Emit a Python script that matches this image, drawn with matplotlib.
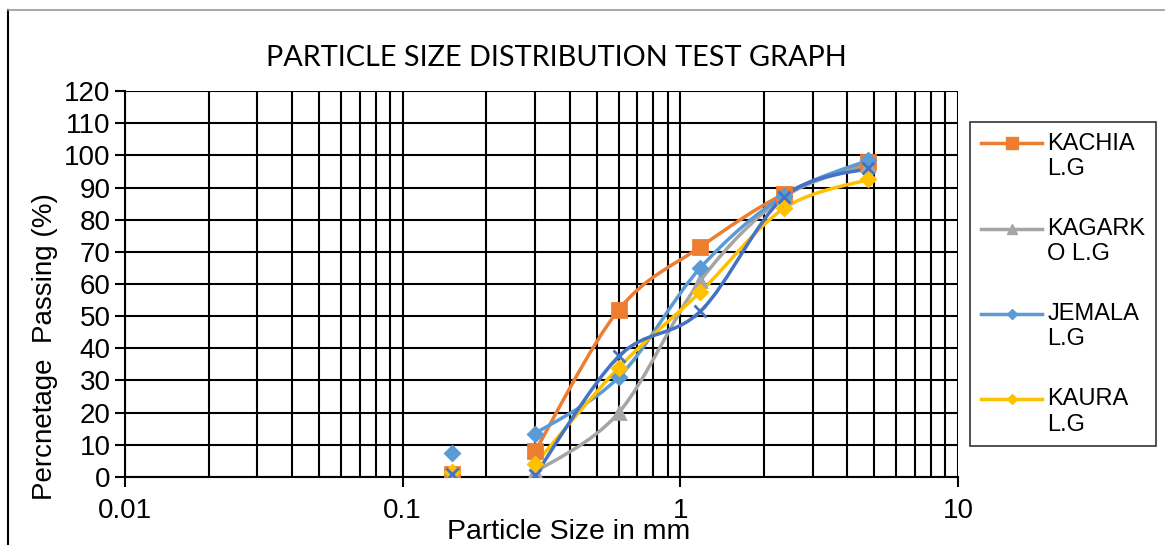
import numpy as np
import matplotlib.pyplot as plt
from matplotlib.path import Path
from matplotlib.patches import PathPatch
from matplotlib.lines import Line2D
from matplotlib.legend_handler import HandlerLine2D

plt.rcParams['font.family'] = ['Liberation Sans', 'DejaVu Sans']

# sieve sizes (mm) and percentage passing per sample
sizes = [0.15, 0.3, 0.6, 1.18, 2.36, 4.75]
kachia = [1, 8, 52, 71.5, 88, 98]
kagarko = [1, 1.5, 20, 61, 87, 97]
jemala = [7.5, 13.5, 31, 65, 87.5, 98.5]
kaura = [1.5, 4, 34, 57.5, 83.5, 92.5]
extra = [1, 0.5, 37.5, 51.5, 87, 96]

labels = ['KACHIA\nL.G', 'KAGARK\nO L.G', 'JEMALA\nL.G', 'KAURA\nL.G', None]
colors = ['#ED7D31', '#A5A5A5', '#5B9BD5', '#FFC000', '#4472C4']
markers = ['s', '^', 'D', 'D', 'x']
msizes = [10, 9, 7, 7, 8]
series = [kachia, kagarko, jemala, kaura, extra]


def smooth(x, y):
    # excel style smoothed line, bezier in log-x space
    pts = np.column_stack([np.log10(x), y])
    n = len(pts)
    verts = [pts[0]]
    codes = [Path.MOVETO]
    for i in range(n - 1):
        p0 = pts[max(i - 1, 0)]
        p1 = pts[i]
        p2 = pts[i + 1]
        p3 = pts[min(i + 2, n - 1)]
        verts += [p1 + (p2 - p0) / 6, p2 - (p3 - p1) / 6, p2]
        codes += [Path.CURVE4] * 3
    verts = np.array(verts)
    verts[:, 0] = 10 ** verts[:, 0]
    return Path(verts, codes)


class HandlerUp(HandlerLine2D):
    # put the legend line next to the first text line
    def create_artists(self, legend, orig_handle, xdescent, ydescent,
                       width, height, fontsize, trans):
        return super().create_artists(legend, orig_handle, xdescent, ydescent - 19,
                                      width, height, fontsize, trans)


fig = plt.figure(figsize=(11.65, 5.45), dpi=100)
ax = fig.add_axes([0.1073, 0.1248, 0.715, 0.7082])

handles = []
for vals, lab, c, m, ms in zip(series, labels, colors, markers, msizes):
    p = PathPatch(smooth(sizes[1:], vals[1:]), transform=ax.transData,
                  fill=False, edgecolor=c, lw=2.5, zorder=3)
    ax.add_patch(p)
    ax.plot(sizes, vals, ls='none', marker=m, color=c, ms=ms, mew=2, zorder=4)
    if lab:
        handles.append((Line2D([], [], color=c, lw=2.5, marker=m, ms=ms * 0.8), lab))

ax.set_xscale('log')
ax.set_xlim(0.01, 10)
ax.set_ylim(0, 120)
ax.set_yticks(range(0, 121, 10))
ax.set_xticks([0.01, 0.1, 1, 10])
ax.set_xticklabels(['0.01', '0.1', '1', '10'])
ax.grid(True, which='both', axis='x', color='black', lw=1.5)
ax.grid(True, which='major', axis='y', color='black', lw=1.5)
ax.set_axisbelow(True)
ax.tick_params(axis='both', which='major', labelsize=20, length=7, width=1.5, color='black')
ax.tick_params(axis='x', which='minor', length=0)
ax.tick_params(axis='x', pad=8)
for s in ['top', 'right']:
    ax.spines[s].set_visible(False)
for s in ['left', 'bottom']:
    ax.spines[s].set_linewidth(1.5)

ax.set_xlabel('Particle Size in mm', fontsize=20.5)
ax.xaxis.set_label_coords(0.533, -0.11)
ax.set_ylabel('Percnetage  Passing (%)', fontsize=20)
ax.yaxis.set_label_coords(-0.08, 0.337)
fig.text(0.478, 0.893, 'PARTICLE SIZE DISTRIBUTION TEST GRAPH', ha='center', va='center',
         fontsize=20.8, family=['Lato', 'DejaVu Sans'])

leg = fig.legend([h for h, _ in handles], [l for _, l in handles], loc='upper left',
                 bbox_to_anchor=(0.833, 0.776), borderaxespad=0, fontsize=17,
                 frameon=True, fancybox=False, edgecolor='black', handlelength=2.6,
                 handletextpad=0.2, labelspacing=1.6, borderpad=0.45,
                 handler_map={Line2D: HandlerUp()})
leg.get_frame().set_linewidth(1.2)

# outer chart border
fig.add_artist(Line2D([0.0069, 0.0069], [0, 0.9817], color='black', lw=1.5))
fig.add_artist(Line2D([0.0069, 1], [0.9817, 0.9817], color='#999999', lw=1.2))

fig.savefig('out.png', dpi=100)
